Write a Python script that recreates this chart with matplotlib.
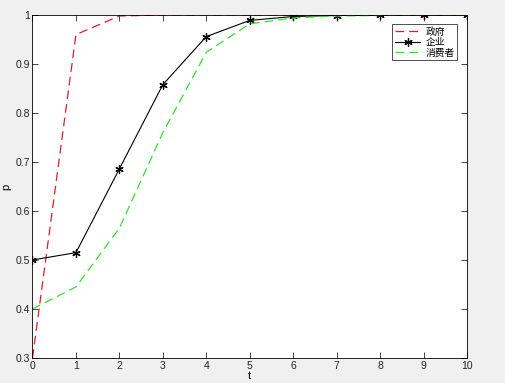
import matplotlib
matplotlib.use('Agg')
import matplotlib.pyplot as plt

plt.rcParams['font.family'] = ['Liberation Sans', 'Noto Sans CJK SC', 'DejaVu Sans']

# 数据
t = [0, 1, 2, 3, 4, 5, 6, 7, 8, 9, 10]
gov = [0.30, 0.96, 0.998, 1.0, 1.0, 1.0, 1.0, 1.0, 1.0, 1.0, 1.0]
firm = [0.50, 0.515, 0.686, 0.858, 0.956, 0.989, 0.997, 0.999, 0.9995, 1.0, 1.0]
consumer = [0.40, 0.445, 0.565, 0.76, 0.924, 0.982, 0.994, 0.998, 0.999, 1.0, 1.0]
labels = ['政府', '企业', '消费者']

fig = plt.figure(figsize=(5.06, 3.83), dpi=100, facecolor='#f0f0f0')
ax = fig.add_axes([0.0642, 0.0653, 0.8588, 0.8955])

ax.plot(t, gov, color='#d81e28', linestyle=(0, (7, 4)), lw=0.9, label=labels[0])
ax.plot(t, firm, color='black', lw=0.8, marker=(6, 2, 0), ms=6, markeredgewidth=0.9,
        label=labels[1])
ax.plot(t, consumer, color='#30e030', linestyle=(0, (7, 4)), lw=0.9, label=labels[2])

ax.set_xlim(0, 10)
ax.set_ylim(0.3, 1)
ax.set_xticks(range(0, 11))
ax.set_yticks([0.3, 0.4, 0.5, 0.6, 0.7, 0.8, 0.9, 1])
ax.set_yticklabels(['0.3', '0.4', '0.5', '0.6', '0.7', '0.8', '0.9', '1'])
ax.tick_params(direction='in', top=True, right=True, labelsize=7.5, length=4,
               width=0.6, pad=2, colors='#222222')
for s in ax.spines.values():
    s.set_linewidth(0.6)
ax.set_xlabel('t', fontsize=8, labelpad=0)
ax.set_ylabel('p', fontsize=8, labelpad=3)

leg = ax.legend(loc='upper right', bbox_to_anchor=(0.978, 0.975),
                prop={'family': ['Noto Sans CJK SC', 'DejaVu Sans'], 'size': 7},
                frameon=True, fancybox=False, edgecolor='black', handlelength=2.6,
                borderpad=0.3, labelspacing=0.05, handletextpad=0.5,
                borderaxespad=0)
leg.get_frame().set_linewidth(0.6)

fig.savefig('out.png', dpi=100, facecolor=fig.get_facecolor())
